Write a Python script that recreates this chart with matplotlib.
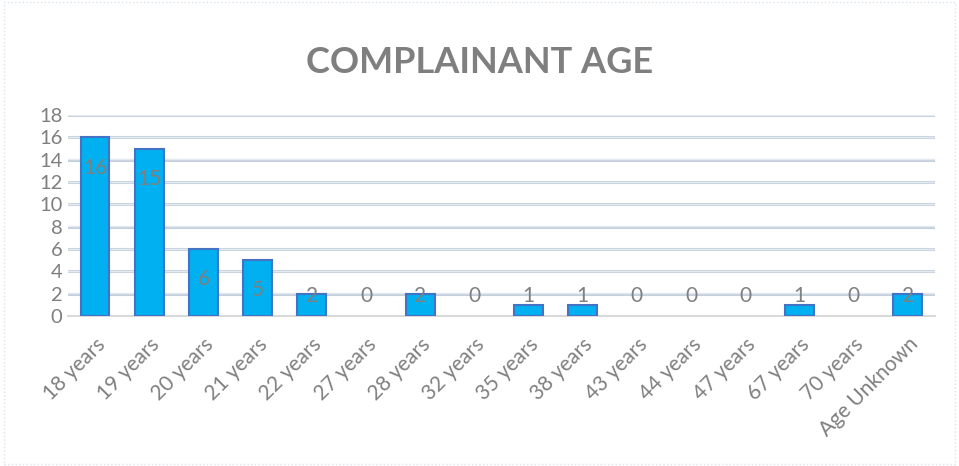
import matplotlib
matplotlib.use("Agg")
import matplotlib.pyplot as plt
from matplotlib.patches import Rectangle

categories = ["18 years", "19 years", "20 years", "21 years", "22 years", "27 years",
              "28 years", "32 years", "35 years", "38 years", "43 years", "44 years",
              "47 years", "67 years", "70 years", "Age Unknown"]
values = [16, 15, 6, 5, 2, 0, 2, 0, 1, 1, 0, 0, 0, 1, 0, 2]
yticks = [0, 2, 4, 6, 8, 10, 12, 14, 16, 18]
title = "COMPLAINANT AGE"

plt.rcParams['font.family'] = ['Lato', 'DejaVu Sans']
gray = '#7F7F7F'

fig = plt.figure(figsize=(9.59, 4.66), dpi=100)
fig.patches.append(Rectangle((0.004, 0.004), 0.992, 0.992, transform=fig.transFigure,
                             fill=False, edgecolor='#D9E2EE', linewidth=1, linestyle=':'))
ax = fig.add_axes([0.0709, 0.322, 0.904, 0.431])

x = list(range(len(categories)))
lws = [1.5 if v > 0 else 0 for v in values]
ax.bar(x, values, width=0.53, color='#00B0F0', edgecolor='#4472C4', linewidth=lws, zorder=3)

ax.set_ylim(0, 18)
ax.set_xlim(-0.5, len(categories) - 0.5)
ax.set_yticks(yticks)
ax.set_yticklabels([str(t) for t in yticks], fontsize=14.5, color=gray)
ax.set_xticks(x)
ax.set_xticklabels(categories, rotation=45, ha='right', rotation_mode='anchor',
                   fontsize=15, color=gray)
ax.tick_params(axis='both', length=0, pad=4)
ax.tick_params(axis='x', pad=13)

for t in yticks[1:]:
    ax.axhline(t, color='#C5D0DD', linewidth=2.2, zorder=1)
    ax.axhline(t + 0.04, color='#E4EAF1', linewidth=1, zorder=1)

for s in ['top', 'right', 'left']:
    ax.spines[s].set_visible(False)
ax.spines['bottom'].set_color('#D9D9D9')
ax.spines['bottom'].set_linewidth(1.5)

for xi, v in zip(x, values):
    ly = max(v - 2.7, 1.8)
    ax.text(xi, ly, str(v), ha='center', va='center', fontsize=15, color=gray, zorder=4)

fig.text(0.5, 0.865, title, ha='center', va='center', fontsize=26, fontweight='bold', color=gray)

fig.savefig("out.png", dpi=100, facecolor='white')
